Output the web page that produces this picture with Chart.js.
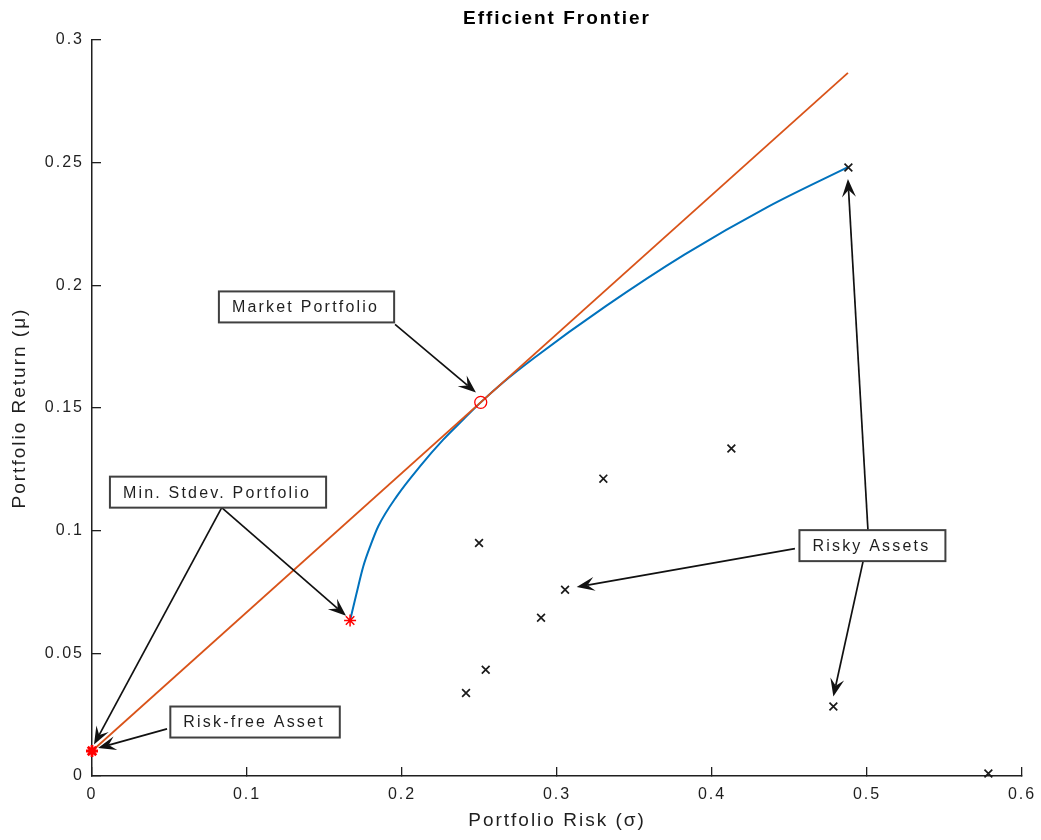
<!DOCTYPE html>
<html>
<head>
<meta charset="utf-8">
<title>Efficient Frontier</title>
<script src="https://cdn.jsdelivr.net/npm/chart.js@4.4.1/dist/chart.umd.min.js"></script>
<style>
  html, body { margin: 0; padding: 0; background: #fff; }
  #wrap { width: 1041px; height: 840px; }
</style>
</head>
<body>
<div id="wrap"><canvas id="frontierChart"></canvas></div>
<script>
// Capital market line (from the risk-free asset through the market portfolio)
const cmlRisk = [0, 0.4877];
const cmlReturn = [0.0102, 0.2866];

// Efficient frontier
const frontierRisk = [0.1665, 0.1705, 0.1750, 0.1800, 0.1847, 0.1966, 0.2116, 0.2266, 0.2395, 0.2508,
  0.2648, 0.2854, 0.3315, 0.3822, 0.4360, 0.4877];
const frontierReturn = [0.0634, 0.0740, 0.0854, 0.0945, 0.1018, 0.1140, 0.1262, 0.1371, 0.1453, 0.1523,
  0.1602, 0.1705, 0.1915, 0.2125, 0.2320, 0.2482];

// Individual risky assets
const assetRisk = [0.4880, 0.4125, 0.3299, 0.2497, 0.3052, 0.2897, 0.2540, 0.2413, 0.4783, 0.5783];
const assetReturn = [0.2480, 0.1335, 0.1212, 0.0950, 0.0759, 0.0645, 0.0433, 0.0338, 0.0283, 0.0010];

// Special portfolios
const riskFreeRisk = [0];
const riskFreeReturn = [0.0102];
const minStdRisk = [0.1665];
const minStdReturn = [0.0634];
const marketRisk = [0.2508];
const marketReturn = [0.1523];

// Axis ticks
const xTicks = [0, 0.1, 0.2, 0.3, 0.4, 0.5, 0.6];
const xTickLabels = ['0', '0.1', '0.2', '0.3', '0.4', '0.5', '0.6'];
const yTicks = [0, 0.05, 0.1, 0.15, 0.2, 0.25, 0.3];
const yTickLabels = ['0', '0.05', '0.1', '0.15', '0.2', '0.25', '0.3'];

// Callout boxes (centre in axis units) and their arrows (axis units)
const calloutBoxes = [
  { text: 'Market Portfolio', at: [0.1384, 0.1912] },
  { text: 'Min. Stdev. Portfolio', at: [0.0813, 0.1157] },
  { text: 'Risk-free Asset', at: [0.1052, 0.0220] },
  { text: 'Risky Assets', at: [0.5035, 0.0939] }
];
const calloutArrows = [
  { from: [0.1955, 0.1841], to: [0.2477, 0.1563] },
  { from: [0.0837, 0.1094], to: [0.0013, 0.0128] },
  { from: [0.0837, 0.1094], to: [0.1639, 0.0653] },
  { from: [0.0484, 0.0192], to: [0.0039, 0.0114] },
  { from: [0.5006, 0.1004], to: [0.4877, 0.2433] },
  { from: [0.4535, 0.0927], to: [0.3127, 0.0770] },
  { from: [0.4974, 0.0873], to: [0.4783, 0.0324] }
];

const axisColor = '#1f1f1f';
const fontFamily = '"Liberation Sans", Arial, Helvetica, sans-serif';

function toPoints(xs, ys) {
  return xs.map((v, i) => ({ x: v, y: ys[i] }));
}

// Spaced-out lettering for every text drawn on the canvas
const spacingPlugin = {
  id: 'spacing',
  beforeDraw(chart) {
    chart.ctx.letterSpacing = '2px';
  }
};

function drawArrow(ctx, x1, y1, x2, y2) {
  const ang = Math.atan2(y2 - y1, x2 - x1);
  const dx = Math.cos(ang), dy = Math.sin(ang);
  const len = 18, half = 7, notch = 11;
  ctx.beginPath();
  ctx.moveTo(x1, y1);
  ctx.lineTo(x2 - dx * notch, y2 - dy * notch);
  ctx.stroke();
  ctx.beginPath();
  ctx.moveTo(x2, y2);
  ctx.lineTo(x2 - dx * len - dy * half, y2 - dy * len + dx * half);
  ctx.lineTo(x2 - dx * notch, y2 - dy * notch);
  ctx.lineTo(x2 - dx * len + dy * half, y2 - dy * len - dx * half);
  ctx.closePath();
  ctx.fill();
}

const calloutPlugin = {
  id: 'callouts',
  afterDraw(chart) {
    const { ctx, scales: { x, y } } = chart;
    ctx.save();
    ctx.strokeStyle = '#111';
    ctx.fillStyle = '#111';
    ctx.lineWidth = 1.7;
    calloutArrows.forEach(a => {
      drawArrow(ctx,
        x.getPixelForValue(a.from[0]), y.getPixelForValue(a.from[1]),
        x.getPixelForValue(a.to[0]), y.getPixelForValue(a.to[1]));
    });

    ctx.font = '16px ' + fontFamily;
    ctx.letterSpacing = '2.2px';
    ctx.textBaseline = 'middle';
    ctx.textAlign = 'left';
    calloutBoxes.forEach(b => {
      const cx = x.getPixelForValue(b.at[0]);
      const cy = y.getPixelForValue(b.at[1]);
      const w = ctx.measureText(b.text).width + 28;
      const h = 31;
      ctx.fillStyle = '#fff';
      ctx.fillRect(cx - w / 2, cy - h / 2, w, h);
      ctx.strokeStyle = '#404040';
      ctx.lineWidth = 2;
      ctx.strokeRect(cx - w / 2, cy - h / 2, w, h);
      ctx.fillStyle = axisColor;
      ctx.fillText(b.text, cx - w / 2 + 13, cy + 1);
    });
    ctx.restore();
  }
};

Chart.defaults.font.family = fontFamily;

const ctx = document.getElementById('frontierChart').getContext('2d');
new Chart(ctx, {
  type: 'scatter',
  data: {
    datasets: [
      {
        label: 'Risky assets',
        data: toPoints(assetRisk, assetReturn),
        pointStyle: 'crossRot',
        pointRadius: 5.5,
        borderColor: '#1a1a1a',
        borderWidth: 1.7,
        clip: false,
        order: 0
      },
      {
        label: 'Risk-free asset',
        data: toPoints(riskFreeRisk, riskFreeReturn),
        pointStyle: 'star',
        pointRadius: 6,
        borderColor: '#ff0000',
        backgroundColor: '#ff0000',
        borderWidth: 2.8,
        clip: false,
        order: 0
      },
      {
        label: 'Min. stdev. portfolio',
        data: toPoints(minStdRisk, minStdReturn),
        pointStyle: 'star',
        pointRadius: 6,
        borderColor: '#ff0000',
        borderWidth: 1.5,
        clip: false,
        order: 0
      },
      {
        label: 'Market portfolio',
        data: toPoints(marketRisk, marketReturn),
        pointStyle: 'circle',
        pointRadius: 6,
        borderColor: '#ff0000',
        backgroundColor: 'rgba(0,0,0,0)',
        borderWidth: 1.3,
        clip: false,
        order: 0
      },
      {
        label: 'Capital market line',
        data: toPoints(cmlRisk, cmlReturn),
        showLine: true,
        borderColor: '#D95319',
        borderWidth: 1.8,
        pointRadius: 0,
        fill: false,
        order: 1
      },
      {
        label: 'Efficient frontier',
        data: toPoints(frontierRisk, frontierReturn),
        showLine: true,
        borderColor: '#0072BD',
        borderWidth: 2,
        pointRadius: 0,
        cubicInterpolationMode: 'monotone',
        fill: false,
        order: 2
      }
    ]
  },
  options: {
    responsive: true,
    maintainAspectRatio: false,
    animation: false,
    layout: { padding: 0 },
    plugins: {
      legend: { display: false },
      tooltip: { enabled: false },
      title: {
        display: true,
        text: 'Efficient Frontier',
        fullSize: false,
        color: '#000',
        font: { size: 19, weight: 'bold' },
        padding: { top: 7.6, bottom: 9.6 }
      }
    },
    scales: {
      x: {
        type: 'linear',
        min: 0,
        max: 0.6,
        afterBuildTicks: s => { s.ticks = xTicks.map(v => ({ value: v })); },
        afterFit: s => {
          s.height = 64;
          s.paddingLeft = 0;
          s.paddingRight = 19;
        },
        ticks: {
          callback: (v, i) => xTickLabels[i],
          color: axisColor,
          font: { size: 16 },
          padding: 18,
          maxRotation: 0,
          autoSkip: false
        },
        grid: {
          drawOnChartArea: false,
          drawTicks: true,
          tickLength: -9,
          color: axisColor,
          lineWidth: 1.3
        },
        border: { display: true, color: axisColor, width: 1.5 },
        title: {
          display: true,
          text: 'Portfolio Risk (σ)',
          color: axisColor,
          font: { size: 19 },
          padding: { top: 0, bottom: 7.6 }
        }
      },
      y: {
        type: 'linear',
        min: 0,
        max: 0.3,
        afterBuildTicks: s => { s.ticks = yTicks.map(v => ({ value: v })); },
        afterFit: s => { s.width = 92; },
        ticks: {
          callback: (v, i) => yTickLabels[i],
          color: axisColor,
          font: { size: 16 },
          padding: 17,
          autoSkip: false
        },
        grid: {
          drawOnChartArea: false,
          drawTicks: true,
          tickLength: -9,
          color: axisColor,
          lineWidth: 1.3
        },
        border: { display: true, color: axisColor, width: 1.5 },
        title: {
          display: true,
          text: 'Portfolio Return (μ)',
          color: axisColor,
          font: { size: 19 },
          padding: { top: 8.6, bottom: 0 }
        }
      }
    }
  },
  plugins: [spacingPlugin, calloutPlugin]
});
</script>
</body>
</html>
